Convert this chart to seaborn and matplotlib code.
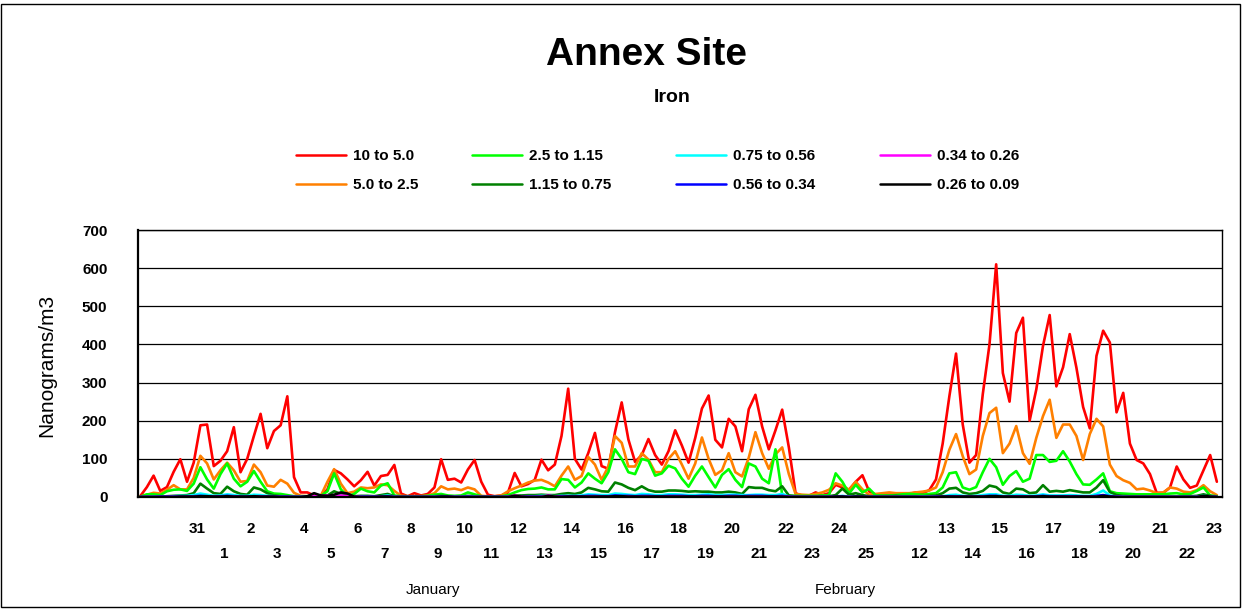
import numpy as np
import pandas as pd
import matplotlib
matplotlib.use("Agg")
import matplotlib.pyplot as plt
import matplotlib.transforms as mtransforms
from matplotlib.patches import Rectangle
from matplotlib.lines import Line2D
import seaborn as sns

sns.set_theme(style="white")
plt.rcParams['font.family'] = ['Liberation Sans', 'DejaVu Sans']
plt.rcParams['text.color'] = 'black'
plt.rcParams['axes.labelcolor'] = 'black'
plt.rcParams['xtick.color'] = 'black'
plt.rcParams['ytick.color'] = 'black'

# ---------------- data (6-hourly samples) ----------------
series_names = ["10 to 5.0", "5.0 to 2.5", "2.5 to 1.15", "1.15 to 0.75",
                "0.75 to 0.56", "0.56 to 0.34", "0.34 to 0.26", "0.26 to 0.09"]
series_colors = ["#FF0000", "#FF8000", "#00FF00", "#008000",
                 "#00FFFF", "#0000FF", "#FF00FF", "#000000"]

red = [2, 26, 56, 16, 26, 66, 99, 40, 90, 188,
       190, 81, 95, 120, 183, 65, 100, 160, 218, 128,
       173, 188, 264, 52, 12, 12, 4, 2, 20, 71,
       62, 46, 28, 44, 66, 30, 55, 58, 84, 9,
       2, 10, 4, 8, 25, 99, 45, 48, 38, 72,
       97, 40, 6, 2, 4, 12, 63, 28, 34, 45,
       98, 70, 85, 160, 284, 100, 72, 115, 168, 81,
       74, 170, 248, 151, 92, 110, 152, 110, 85, 120,
       175, 135, 90, 155, 232, 266, 150, 130, 205, 185,
       120, 230, 268, 185, 125, 175, 229, 130, 10, 3,
       3, 12, 5, 10, 32, 25, 19, 40, 57, 15,
       6, 6, 6, 8, 7, 8, 12, 10, 18, 46,
       140, 264, 376, 190, 90, 110, 270, 400, 610, 325,
       250, 430, 470, 200, 282, 396, 477, 290, 340, 427,
       339, 236, 180, 370, 436, 405, 222, 273, 140, 97,
       88, 60, 11, 11, 25, 80, 46, 24, 30, 70,
       110, 40]

orange = [1, 6, 11, 9, 19, 31, 20, 20, 50, 108,
          88, 46, 70, 90, 70, 40, 42, 85, 65, 30,
          27, 45, 35, 11, 3, 2, 2, 3, 40, 73,
          35, 10, 14, 25, 23, 25, 33, 31, 16, 3,
          2, 2, 2, 4, 10, 28, 20, 22, 18, 25,
          20, 3, 2, 2, 4, 15, 23, 30, 38, 43,
          45, 38, 28, 56, 80, 45, 55, 105, 85, 45,
          80, 160, 142, 80, 80, 115, 98, 65, 65, 100,
          120, 85, 48, 88, 156, 100, 58, 70, 115, 65,
          54, 103, 170, 115, 74, 112, 130, 60, 8, 6,
          5, 8, 12, 19, 36, 30, 19, 40, 20, 6,
          8, 10, 12, 10, 10, 10, 12, 14, 17, 25,
          65, 124, 165, 107, 60, 72, 160, 220, 234, 115,
          140, 186, 115, 87, 155, 212, 255, 155, 190, 190,
          160, 97, 165, 205, 185, 85, 55, 44, 37, 20,
          22, 17, 10, 12, 25, 22, 14, 12, 18, 31,
          15, 5]

green = [1, 7, 7, 5, 15, 19, 20, 16, 35, 78,
         46, 22, 60, 88, 48, 28, 40, 68, 40, 15,
         9, 8, 5, 2, 2, 2, 2, 3, 15, 62,
         20, 2, 8, 22, 15, 12, 30, 36, 4, 2,
         2, 2, 2, 3, 6, 8, 4, 3, 4, 12,
         7, 2, 1, 1, 2, 5, 12, 18, 21, 22,
         25, 20, 20, 47, 45, 25, 38, 62, 48, 36,
         65, 125, 100, 65, 60, 100, 95, 56, 62, 82,
         75, 48, 27, 56, 80, 52, 25, 58, 73, 45,
         26, 88, 80, 48, 36, 125, 6, 3, 3, 3,
         3, 3, 4, 5, 62, 40, 9, 32, 12, 22,
         4, 4, 4, 5, 7, 8, 7, 6, 8, 10,
         25, 62, 65, 25, 19, 26, 65, 100, 78, 32,
         55, 68, 40, 48, 110, 110, 92, 95, 120, 93,
         60, 33, 32, 46, 62, 15, 10, 9, 8, 7,
         7, 7, 7, 7, 9, 10, 7, 8, 16, 25,
         4, 2]

dark_green = [0, 0, 1, 1, 2, 3, 4, 5, 10, 35,
              22, 10, 8, 27, 15, 8, 6, 25, 20, 10,
              4, 2, 2, 1, 1, 1, 1, 1, 4, 15,
              8, 2, 2, 3, 3, 2, 5, 8, 2, 1,
              1, 1, 1, 1, 2, 3, 2, 1, 1, 3,
              2, 1, 1, 1, 1, 2, 4, 4, 5, 5,
              6, 5, 5, 8, 10, 8, 12, 24, 20, 15,
              14, 38, 33, 24, 18, 28, 18, 14, 14, 17,
              17, 16, 14, 15, 14, 14, 12, 12, 14, 12,
              8, 26, 24, 24, 18, 15, 28, 4, 2, 1,
              1, 1, 1, 2, 5, 22, 6, 10, 5, 2,
              2, 2, 2, 3, 2, 2, 2, 2, 3, 4,
              10, 22, 24, 12, 8, 10, 16, 30, 26, 12,
              8, 22, 20, 10, 12, 31, 14, 16, 14, 18,
              15, 12, 12, 25, 44, 13, 5, 3, 2, 2,
              2, 2, 1, 1, 1, 1, 2, 2, 3, 7,
              3, 1]

cyan = [0, 0, 1, 1, 1, 2, 3, 3, 5, 9,
        6, 3, 4, 7, 5, 3, 3, 6, 5, 3,
        2, 1, 1, 1, 1, 0, 0, 0, 1, 3,
        1, 0, 1, 2, 2, 1, 2, 4, 1, 0,
        0, 0, 0, 0, 1, 2, 1, 1, 1, 2,
        1, 0, 0, 0, 0, 1, 1, 2, 2, 2,
        3, 3, 2, 3, 3, 3, 4, 7, 6, 5,
        5, 9, 8, 6, 5, 8, 7, 5, 5, 7,
        7, 6, 5, 5, 6, 7, 5, 5, 6, 6,
        5, 5, 6, 6, 5, 5, 8, 1, 0, 0,
        0, 0, 0, 0, 1, 3, 1, 2, 1, 0,
        0, 0, 0, 0, 0, 0, 0, 1, 1, 1,
        2, 5, 6, 3, 2, 3, 5, 7, 7, 3,
        3, 6, 5, 3, 4, 7, 4, 4, 4, 5,
        4, 3, 3, 8, 17, 4, 1, 1, 0, 0,
        0, 0, 0, 0, 0, 0, 0, 0, 1, 3,
        1, 0]

blue = [0, 0, 0, 1, 1, 1, 1, 1, 2, 3,
        2, 1, 2, 3, 2, 1, 1, 2, 2, 1,
        1, 1, 1, 0, 0, 0, 0, 0, 1, 2,
        1, 0, 0, 1, 1, 1, 1, 2, 0, 0,
        0, 0, 0, 0, 0, 1, 1, 0, 0, 1,
        0, 0, 0, 0, 0, 0, 1, 1, 1, 1,
        1, 1, 1, 2, 2, 2, 2, 3, 3, 2,
        2, 4, 3, 3, 2, 3, 3, 2, 2, 3,
        3, 3, 2, 2, 3, 3, 2, 2, 3, 3,
        2, 3, 3, 3, 2, 2, 3, 1, 0, 0,
        0, 0, 0, 0, 1, 1, 0, 1, 0, 0,
        0, 0, 0, 0, 0, 0, 0, 0, 0, 1,
        1, 2, 2, 1, 1, 1, 2, 3, 3, 1,
        1, 2, 2, 1, 2, 3, 2, 2, 2, 2,
        2, 1, 1, 3, 5, 2, 1, 0, 0, 0,
        0, 0, 0, 0, 0, 0, 0, 0, 0, 1,
        0, 0]

magenta = [0, 0, 0, 0, 0, 0, 0, 0, 1, 1,
           1, 0, 0, 1, 1, 0, 0, 1, 1, 0,
           0, 0, 0, 0, 0, 0, 2, 3, 4, 3,
           4, 3, 1, 0, 0, 0, 0, 0, 0, 0,
           0, 0, 0, 0, 0, 0, 0, 0, 0, 0,
           0, 0, 0, 0, 0, 0, 4, 1, 0, 0,
           0, 4, 1, 0, 0, 0, 0, 1, 1, 0,
           0, 1, 1, 1, 0, 1, 1, 0, 0, 1,
           1, 1, 0, 0, 1, 1, 0, 0, 1, 1,
           0, 1, 1, 1, 0, 0, 1, 0, 0, 0,
           0, 0, 0, 0, 0, 0, 0, 0, 0, 0,
           0, 0, 0, 0, 0, 0, 0, 0, 0, 0,
           0, 0, 1, 0, 0, 0, 1, 1, 1, 0,
           0, 1, 1, 0, 0, 1, 0, 0, 0, 1,
           0, 0, 0, 1, 2, 0, 0, 0, 0, 0,
           0, 0, 0, 0, 0, 0, 0, 0, 0, 0,
           0, 0]

black = [0, 0, 0, 0, 0, 0, 1, 1, 1, 2,
         2, 1, 1, 2, 1, 1, 1, 2, 1, 1,
         1, 0, 0, 0, 0, 2, 10, 4, 3, 6,
         12, 9, 1, 0, 0, 0, 1, 1, 0, 0,
         0, 0, 0, 0, 0, 1, 1, 0, 0, 0,
         0, 0, 0, 0, 0, 0, 3, 1, 0, 0,
         0, 3, 1, 0, 1, 1, 1, 1, 1, 1,
         1, 2, 2, 1, 1, 1, 1, 1, 1, 1,
         1, 1, 1, 1, 1, 1, 1, 1, 1, 1,
         1, 1, 1, 1, 1, 1, 1, 0, 0, 0,
         0, 0, 0, 0, 1, 1, 0, 1, 1, 0,
         0, 0, 0, 0, 0, 0, 0, 0, 0, 0,
         1, 1, 1, 1, 1, 1, 1, 2, 2, 1,
         1, 1, 1, 1, 1, 2, 1, 1, 1, 1,
         1, 1, 1, 1, 3, 1, 0, 0, 0, 0,
         0, 0, 0, 0, 0, 0, 0, 0, 0, 3,
         1, 0]

day_labels = ["31", "1", "2", "3", "4", "5", "6", "7", "8", "9", "10",
              "11", "12", "13", "14", "15", "16", "17", "18", "19", "20",
              "21", "22", "23", "24", "25", "",
              "12", "13", "14", "15", "16", "17", "18", "19", "20",
              "21", "22", "23"]
month_labels = ["January", "February"]
y_ticks = [0, 100, 200, 300, 400, 500, 600, 700]

# ---------------- build long table ----------------
all_series = [red, orange, green, dark_green, cyan, blue, magenta, black]
frames = []
for name, vals in zip(series_names, all_series):
    frames.append(pd.DataFrame({"sample": np.arange(len(vals)),
                                "value": vals, "size": name}))
df = pd.concat(frames, ignore_index=True)

W, H = 1244, 610
fig = plt.figure(figsize=(W / 100, H / 100), dpi=100)
fig.patch.set_facecolor("white")
ax = fig.add_axes([138 / W, 1 - 497 / H, (1222 - 138) / W, (497 - 230) / H])

sns.lineplot(data=df, x="sample", y="value", hue="size", hue_order=series_names,
             palette=dict(zip(series_names, series_colors)), linewidth=1.9,
             estimator=None, sort=False, legend=False, ax=ax)

# axes
ax.set_xlim(-0.33, 161.77)
ax.set_ylim(0, 700)
ax.set_yticks(y_ticks)
ax.set_yticklabels([str(v) for v in y_ticks], fontsize=11, fontweight="bold")
ax.tick_params(axis="y", length=0, pad=22, colors="black")
ax.yaxis.grid(True, color="black", linewidth=0.9)
ax.xaxis.grid(False)
ax.set_axisbelow(True)
ax.set_xlabel("")
ax.set_ylabel("")
for s in ax.spines.values():
    s.set_color("black")
    s.set_linewidth(1.0)
ax.spines["left"].set_linewidth(1.6)
ax.spines["bottom"].set_linewidth(1.6)

# x tick labels in two staggered rows
pos = [8.5 + 4 * j for j in range(len(day_labels))]
major_pos = pos[0::2]
minor_pos = pos[1::2]
ax.set_xticks(major_pos)
ax.set_xticklabels(day_labels[0::2])
ax.set_xticks(minor_pos, minor=True)
ax.set_xticklabels(day_labels[1::2], minor=True)
ax.tick_params(axis="x", which="major", length=0, pad=18, labelsize=11, colors="black")
ax.tick_params(axis="x", which="minor", length=0, pad=36, labelsize=11, colors="black")
for lab in ax.get_xticklabels(which="both"):
    lab.set_fontweight("bold")

trans = mtransforms.blended_transform_factory(ax.transData, ax.transAxes)
ax.text(43.8, -0.348, month_labels[0], transform=trans, ha="center", va="center",
        fontsize=11, color="black")
ax.text(105.4, -0.348, month_labels[1], transform=trans, ha="center", va="center",
        fontsize=11, color="black")

# titles
fig.text(647 / W, 1 - 55 / H, "Annex Site", ha="center", va="center",
         fontsize=28, fontweight="bold", color="black")
fig.text(672 / W, 1 - 97 / H, "Iron", ha="center", va="center",
         fontsize=14, fontweight="bold", color="black")
fig.text(47 / W, 1 - 365 / H, "Nanograms/m3", ha="center", va="center",
         rotation=90, fontsize=15, color="black")

# legend: four columns of two entries
col_x = [296, 472, 676, 880]
for c in range(4):
    handles = [Line2D([0], [0], color=series_colors[2 * c + r], lw=1.8) for r in range(2)]
    labels = [series_names[2 * c + r] for r in range(2)]
    leg = fig.legend(handles, labels, loc="upper left",
                     bbox_to_anchor=(col_x[c] / W, 1 - 149 / H),
                     frameon=False, borderpad=0, borderaxespad=0,
                     handlelength=3.3, handletextpad=0.45, labelspacing=1.0,
                     prop={"weight": "bold", "size": 11})
    for t in leg.get_texts():
        t.set_color("black")

# outer chart border
fig.patches.append(Rectangle((1 / W, 3 / H), 1239 / W, 603 / H, transform=fig.transFigure,
                             fill=False, edgecolor="black", linewidth=1.0))

fig.savefig("out.png", dpi=100)
